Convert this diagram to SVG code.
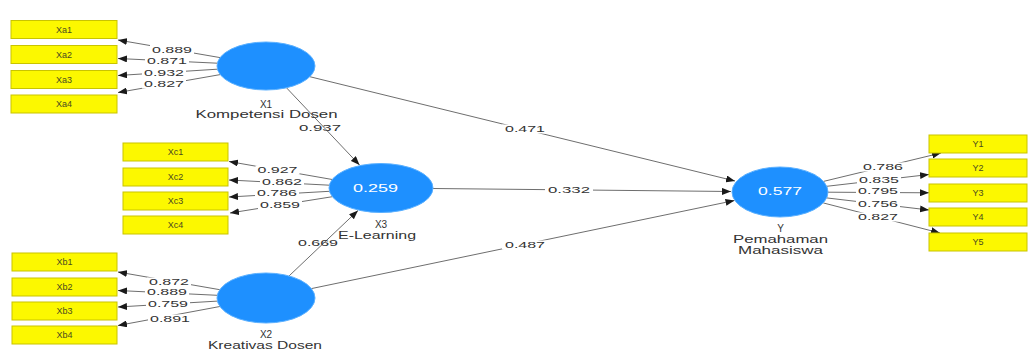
<svg xmlns="http://www.w3.org/2000/svg" width="1028" height="353" viewBox="0 0 1028 353">
<style>
.box{fill:#fcf800;stroke:#c9c400;stroke-width:1}
.bt{font-family:"Liberation Sans",Arial,sans-serif;font-size:9px;fill:#4a4a20;text-anchor:middle}
.ell{fill:#1e90ff;stroke:#5ab0ff;stroke-width:1}
.in{font-family:"Liberation Sans",Arial,sans-serif;font-size:10px;fill:#ffffff;text-anchor:middle}
.lab{font-family:"Liberation Sans",Arial,sans-serif;font-size:10px;fill:#333333;text-anchor:middle}
.num{font-family:"Liberation Sans",Arial,sans-serif;font-size:8.5px;fill:#333333;text-anchor:middle}
.ln{stroke:#6e6e6e;stroke-width:1;fill:none;marker-end:url(#ah)}
.bg{fill:#ffffff}
</style>
<defs>
<marker id="ah" markerUnits="userSpaceOnUse" markerWidth="9" markerHeight="7" refX="9" refY="3.5" orient="auto">
<path d="M0,0 L9,3.5 L0,7 z" fill="#1a1a1a"/>
</marker>
</defs>
<rect width="1028" height="353" fill="#ffffff"/>
<g id="connectors">
<path class="ln" d="M220.1,57.6 L118,40"/>
<path class="ln" d="M217.3,63.2 L118,58.5"/>
<path class="ln" d="M217.4,69.2 L118,75.5"/>
<path class="ln" d="M220.2,74.6 L118,92.5"/>
<path class="ln" d="M332.3,179.5 L229,161.5"/>
<path class="ln" d="M329.3,185.2 L229,180"/>
<path class="ln" d="M329.5,191.3 L229,197"/>
<path class="ln" d="M332.4,196.7 L230,213"/>
<path class="ln" d="M219.8,289.7 L118,272"/>
<path class="ln" d="M217.3,295.3 L118,290.5"/>
<path class="ln" d="M217.4,301.1 L118,307"/>
<path class="ln" d="M219.9,306.5 L118,325.5"/>
<path class="ln" d="M823.5,181.4 L941,153"/>
<path class="ln" d="M826.7,186.3 L929,174.5"/>
<path class="ln" d="M828,192.2 L929,192.8"/>
<path class="ln" d="M826.6,197.9 L929,210"/>
<path class="ln" d="M823.2,202.9 L940,233"/>
<path class="ln" d="M286.5,87.8 L359.5,165"/>
<path class="ln" d="M289.1,275.9 L358,210.5"/>
<path class="ln" d="M309.8,76.7 L735,181"/>
<path class="ln" d="M433,188.5 L731,191.5"/>
<path class="ln" d="M311.4,288.6 L734.5,200.5"/>
<g id="connector-labels">
<rect class="bg" x="150" y="45" width="44" height="9"/>
<rect class="bg" x="145" y="56.5" width="44" height="9"/>
<rect class="bg" x="142" y="68" width="44" height="9"/>
<rect class="bg" x="142" y="79.5" width="44" height="9"/>
<rect class="bg" x="255.5" y="165.5" width="44" height="9"/>
<rect class="bg" x="260" y="177.5" width="44" height="9"/>
<rect class="bg" x="255" y="188.5" width="44" height="9"/>
<rect class="bg" x="258" y="200.5" width="44" height="9"/>
<rect class="bg" x="147" y="277.5" width="44" height="9"/>
<rect class="bg" x="145" y="287.5" width="44" height="9"/>
<rect class="bg" x="146" y="299.5" width="44" height="9"/>
<rect class="bg" x="148" y="314.5" width="44" height="9"/>
<rect class="bg" x="861" y="162.5" width="44" height="9"/>
<rect class="bg" x="857" y="175.5" width="44" height="9"/>
<rect class="bg" x="856" y="186.5" width="44" height="9"/>
<rect class="bg" x="856" y="199.5" width="44" height="9"/>
<rect class="bg" x="856" y="212.5" width="44" height="9"/>
<rect class="bg" x="502" y="124.5" width="46" height="9"/>
<rect class="bg" x="545" y="185.5" width="48" height="9"/>
<rect class="bg" x="502" y="240.5" width="46" height="9"/>
<text class="num" x="172" y="52.5" textLength="40" lengthAdjust="spacingAndGlyphs">0.889</text>
<text class="num" x="167" y="64" textLength="40" lengthAdjust="spacingAndGlyphs">0.871</text>
<text class="num" x="164" y="75.5" textLength="40" lengthAdjust="spacingAndGlyphs">0.932</text>
<text class="num" x="164" y="87" textLength="40" lengthAdjust="spacingAndGlyphs">0.827</text>
<text class="num" x="277.5" y="173" textLength="40" lengthAdjust="spacingAndGlyphs">0.927</text>
<text class="num" x="282" y="185" textLength="40" lengthAdjust="spacingAndGlyphs">0.862</text>
<text class="num" x="277" y="196" textLength="40" lengthAdjust="spacingAndGlyphs">0.786</text>
<text class="num" x="280" y="208" textLength="40" lengthAdjust="spacingAndGlyphs">0.859</text>
<text class="num" x="169" y="285" textLength="40" lengthAdjust="spacingAndGlyphs">0.872</text>
<text class="num" x="167" y="295" textLength="40" lengthAdjust="spacingAndGlyphs">0.889</text>
<text class="num" x="168" y="307" textLength="40" lengthAdjust="spacingAndGlyphs">0.759</text>
<text class="num" x="170" y="322" textLength="40" lengthAdjust="spacingAndGlyphs">0.891</text>
<text class="num" x="883" y="170" textLength="40" lengthAdjust="spacingAndGlyphs">0.786</text>
<text class="num" x="879" y="183" textLength="40" lengthAdjust="spacingAndGlyphs">0.835</text>
<text class="num" x="878" y="194" textLength="40" lengthAdjust="spacingAndGlyphs">0.795</text>
<text class="num" x="878" y="207" textLength="40" lengthAdjust="spacingAndGlyphs">0.756</text>
<text class="num" x="878" y="220" textLength="40" lengthAdjust="spacingAndGlyphs">0.827</text>
<text class="num" x="320" y="131" textLength="42" lengthAdjust="spacingAndGlyphs">0.937</text>
<text class="num" x="525" y="132" textLength="40" lengthAdjust="spacingAndGlyphs">0.471</text>
<text class="num" x="569" y="193" textLength="42" lengthAdjust="spacingAndGlyphs">0.332</text>
<text class="num" x="525" y="248" textLength="40" lengthAdjust="spacingAndGlyphs">0.487</text>
<text class="num" x="318" y="246" textLength="40" lengthAdjust="spacingAndGlyphs">0.669</text>
</g>
</g>
<g id="Xa1"><rect class="box" x="11" y="20.5" width="106" height="18"/><text class="bt" x="64" y="32.5">Xa1</text></g>
<g id="Xa2"><rect class="box" x="11" y="45.5" width="106" height="18"/><text class="bt" x="64" y="57.5">Xa2</text></g>
<g id="Xa3"><rect class="box" x="11" y="70.5" width="106" height="18"/><text class="bt" x="64" y="82.5">Xa3</text></g>
<g id="Xa4"><rect class="box" x="11" y="95" width="106" height="18"/><text class="bt" x="64" y="107">Xa4</text></g>
<g id="Xc1"><rect class="box" x="123" y="143" width="105" height="18"/><text class="bt" x="175.5" y="155">Xc1</text></g>
<g id="Xc2"><rect class="box" x="123" y="168" width="105" height="18"/><text class="bt" x="175.5" y="180">Xc2</text></g>
<g id="Xc3"><rect class="box" x="123" y="192" width="105" height="18"/><text class="bt" x="175.5" y="204">Xc3</text></g>
<g id="Xc4"><rect class="box" x="123" y="216" width="105" height="18"/><text class="bt" x="175.5" y="228">Xc4</text></g>
<g id="Xb1"><rect class="box" x="12" y="253" width="105" height="18"/><text class="bt" x="64.5" y="265">Xb1</text></g>
<g id="Xb2"><rect class="box" x="12" y="278" width="105" height="18"/><text class="bt" x="64.5" y="290">Xb2</text></g>
<g id="Xb3"><rect class="box" x="12" y="302" width="105" height="18"/><text class="bt" x="64.5" y="314">Xb3</text></g>
<g id="Xb4"><rect class="box" x="12" y="326" width="105" height="18"/><text class="bt" x="64.5" y="338">Xb4</text></g>
<g id="Y1"><rect class="box" x="929" y="135" width="98" height="18"/><text class="bt" x="978" y="147">Y1</text></g>
<g id="Y2"><rect class="box" x="929" y="159" width="98" height="18"/><text class="bt" x="978" y="171">Y2</text></g>
<g id="Y3"><rect class="box" x="929" y="184" width="98" height="18"/><text class="bt" x="978" y="196">Y3</text></g>
<g id="Y4"><rect class="box" x="929" y="208" width="98" height="18"/><text class="bt" x="978" y="220">Y4</text></g>
<g id="Y5"><rect class="box" x="929" y="233" width="98" height="18"/><text class="bt" x="978" y="245">Y5</text></g>
<g id="X1">
<ellipse class="ell" cx="266" cy="66" rx="49" ry="24"/>
<text class="lab" x="266" y="108">X1</text>
<text class="lab" x="266.5" y="118" textLength="142" lengthAdjust="spacingAndGlyphs">Kompetensi Dosen</text>
</g>
<g id="X3">
<ellipse class="ell" cx="381" cy="188" rx="52" ry="24.5"/>
<text class="in" x="375.5" y="191.5" textLength="45" lengthAdjust="spacingAndGlyphs">0.259</text>
<text class="lab" x="381" y="228">X3</text>
<text class="lab" x="377" y="238.5" textLength="78" lengthAdjust="spacingAndGlyphs">E-Learning</text>
</g>
<g id="X2">
<ellipse class="ell" cx="266" cy="298" rx="49" ry="25"/>
<text class="lab" x="266" y="338">X2</text>
<text class="lab" x="265" y="349" textLength="114" lengthAdjust="spacingAndGlyphs">Kreativas Dosen</text>
</g>
<g id="Y">
<ellipse class="ell" cx="780" cy="192" rx="48" ry="25"/>
<text class="in" x="780" y="195" textLength="44" lengthAdjust="spacingAndGlyphs">0.577</text>
<text class="lab" x="780.5" y="232">Y</text>
<text class="lab" x="780.5" y="243" textLength="95" lengthAdjust="spacingAndGlyphs">Pemahaman</text>
<text class="lab" x="780.5" y="253.5" textLength="85" lengthAdjust="spacingAndGlyphs">Mahasiswa</text>
</g>
</svg>
